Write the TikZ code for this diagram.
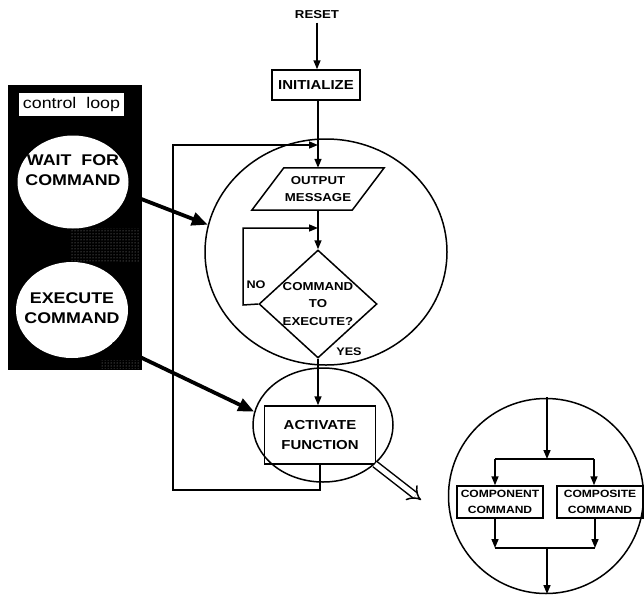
\documentclass[tikz,border=0pt]{standalone}
\usepackage{fontspec}
\setmainfont[FakeStretch=1.15]{Liberation Sans}
\usepackage{tikz}
\usetikzlibrary{arrows.meta, shapes.geometric, patterns, positioning}

\newcommand{\txtsize}[2]{\fontsize{#1}{#2}\selectfont}

\tikzset{
    flow/.style={line width=1.5pt, -{Triangle[length=9pt,width=7pt]}},
    fatarrow/.style={line width=3.8pt, -{Triangle[length=16pt,width=13pt]}},
    stepbox/.style={draw, line width=1.5pt, inner sep=0pt, align=center},
    ring/.style={draw, ellipse, line width=1.5pt, inner sep=0pt},
    disc/.style={fill=white, ellipse, inner sep=0pt},
    disctext/.style={align=center, font=\bfseries\txtsize{15.5}{20}},
}

\begin{document}
\begin{tikzpicture}[x=1pt, y=-1pt]
        \useasboundingbox (0,0) rectangle (644,597);

        % control loop panel (black) with its two states
        \node[fill=black, minimum width=134pt, minimum height=285pt, inner sep=0pt] (panel) at (75,227.5) {};
        \fill[pattern=dots, pattern color=gray!80] (70,228) rectangle (139,262);
        \fill[pattern=dots, pattern color=gray!80] (100,360) rectangle (139,368);
        \node[fill=white, minimum width=105pt, minimum height=23pt, inner sep=0pt, font=\txtsize{15.5}{17}] (ctl) at (71.5,104) {control\ \ loop};
        \node[disc, minimum width=111pt, minimum height=93pt] (waitc) at (73,182) {};
        \node[disctext] (waitt) at (73,170) {WAIT\ \ FOR\\COMMAND};
        \node[disc, minimum width=112pt, minimum height=96pt] (execc) at (72,310) {};
        \node[disctext] (exect) at (72,308) {EXECUTE\\COMMAND};

        % circles round the two parts of the loop
        \node[ring, minimum width=242pt, minimum height=226pt] (loopA) at (326,252) {};
        \node[ring, minimum width=140pt, minimum height=114pt] (loopB) at (323,425) {};

        % main flow
        \node[font=\bfseries\txtsize{11.5}{13}] (reset) at (317,15) {RESET};
        \node[stepbox, minimum width=88pt, minimum height=30pt, font=\bfseries\txtsize{13}{15}] (init) at (316,85) {INITIALIZE};
        \node[minimum width=100pt, minimum height=42pt, inner sep=0pt, align=center, font=\bfseries\txtsize{11.5}{17}] (msg) at (318,189) {OUTPUT\\MESSAGE};
        \draw[line width=1.5pt] ([xshift=-16pt]msg.south west) -- ([xshift=-16pt]msg.south east)
            -- ([xshift=16pt]msg.north east) -- ([xshift=16pt]msg.north west) -- cycle;
        \node[draw, diamond, line width=1.5pt, minimum width=118pt, minimum height=108pt, inner sep=0pt] (dec) at (318,304) {};
        \node[align=center, font=\bfseries\txtsize{11.5}{17.5}] (dect) at (318,304) {COMMAND\\TO\\EXECUTE?};
        \node[stepbox, minimum width=111pt, minimum height=58pt, font=\bfseries\txtsize{13}{20}] (act) at (320,435) {ACTIVATE\\FUNCTION};

        \draw[flow] (reset) -- (reset |- init.north);
        \draw[flow] (init.south -| msg) -- (msg.north);
        \draw[flow] (msg) -- (dec.north);
        \draw[flow] (dec.south) -- (dec.south |- act.north);

        % NO branch back above the decision
        \coordinate (noL) at (243,305);
        \coordinate (nojoin) at (318,228);
        \draw[flow] (dec.west) -- (noL) |- (nojoin);

        % loop back from ACTIVATE FUNCTION
        \coordinate (backL) at (173,490);
        \coordinate (backin) at (318,145);
        \draw[flow] (act.south) |- (backL) |- (backin);

        % Labels
        \node[font=\bfseries\txtsize{11}{13}] (nolbl) at (256,285) {NO};
        \node[font=\bfseries\txtsize{11}{13}] (yeslbl) at (349,352) {YES};

        % thick arrows from the loop states
        \draw[fatarrow] (waitc.-12) -- (loopA.167);
        \draw[fatarrow] (execc.-40) -- (loopB.169);

        % detail of ACTIVATE FUNCTION
        \node[ring, minimum width=195pt, minimum height=195pt] (detail) at (546,496) {};
        \coordinate (hollowtip) at (421,500);
        \draw[double, double distance=5pt, line width=1.5pt, -{Implies[length=11pt, width=24pt]}] (loopB.-37) -- (hollowtip);

        \node[stepbox, minimum width=86pt, minimum height=32pt, font=\bfseries\txtsize{10.5}{16}] (comp) at (500,502) {COMPONENT\\COMMAND};
        \node[stepbox, minimum width=86pt, minimum height=32pt, font=\bfseries\txtsize{10.5}{16}] (cmps) at (600,502) {COMPOSITE\\COMMAND};

        \coordinate (dtop) at (547,397);
        \coordinate (split) at (547,459);
        \coordinate (splitL) at (495,459);
        \coordinate (splitR) at (594,459);
        \coordinate (merge) at (547,548);
        \coordinate (mergeL) at (495,548);
        \coordinate (mergeR) at (595,548);
        \coordinate (dout) at (547,594);

        \draw[flow] (dtop) -- (split);
        \draw[line width=1.5pt] (splitL) -- (splitR);
        \draw[flow] (splitL) -- (comp.north -| splitL);
        \draw[flow] (splitR) -- (cmps.north -| splitR);
        \draw[flow] (comp.south -| mergeL) -- (mergeL);
        \draw[flow] (cmps.south -| mergeR) -- (mergeR);
        \draw[line width=1.5pt] (mergeL) -- (mergeR);
        \draw[flow] (merge) -- (dout);
    \end{tikzpicture}
\end{document}
